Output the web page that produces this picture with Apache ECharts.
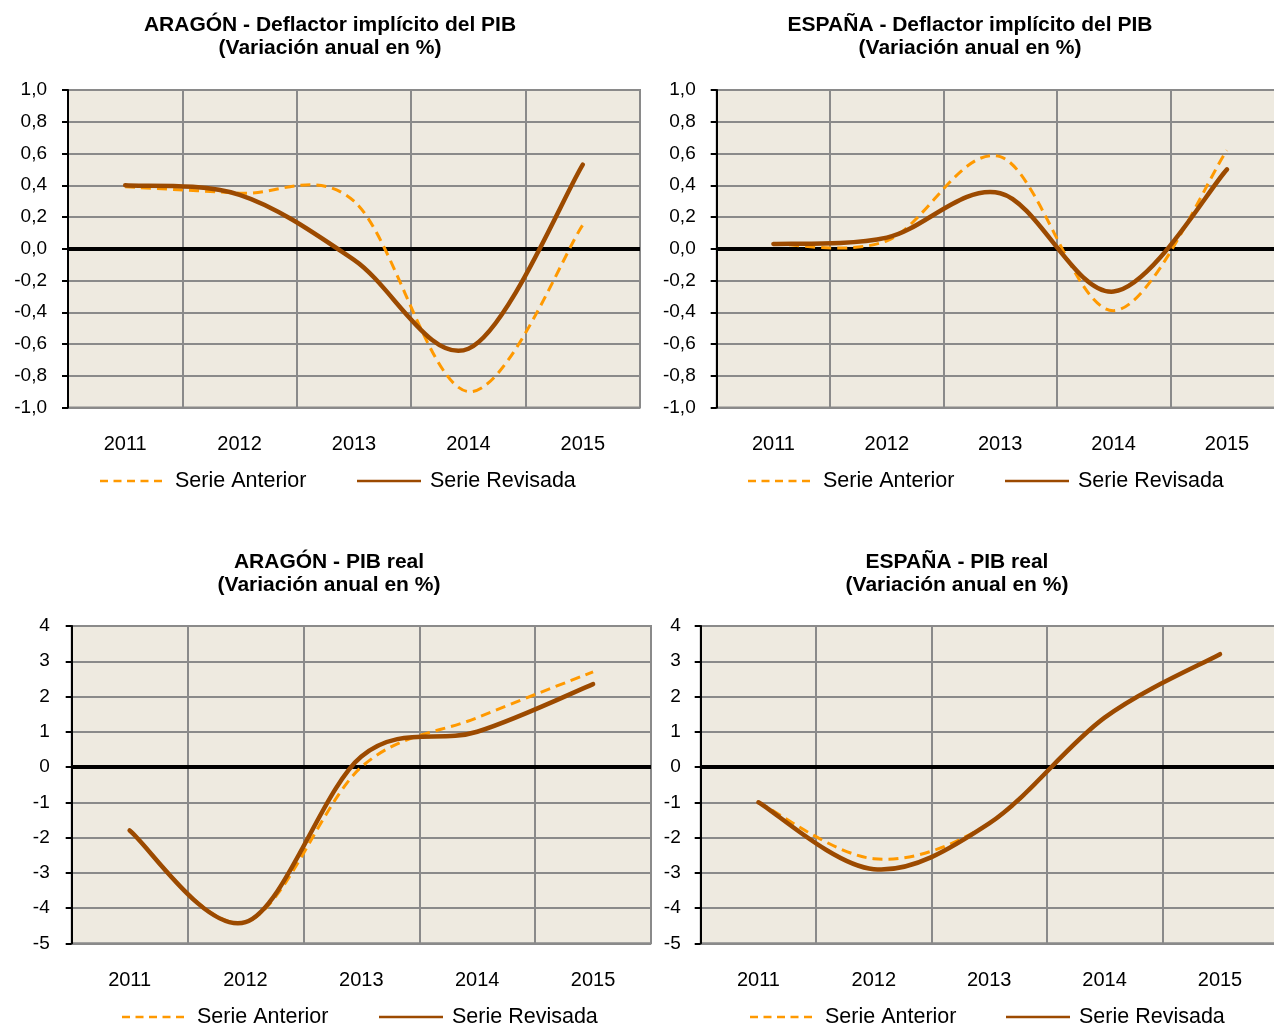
<!DOCTYPE html>
<html>
<head>
<meta charset="utf-8">
<script src="https://cdn.jsdelivr.net/npm/echarts@6/dist/echarts.min.js"></script>
<style>
html,body{margin:0;padding:0;background:#fff;overflow:hidden;width:1274px;height:1027px;}
#c{width:1300px;height:1027px;}
</style>
</head>
<body>
<div id="c"></div>
<script>
// ---- data ----
var categories = ['2011', '2012', '2013', '2014', '2015'];
var aragonDeflAnterior = [0.39, 0.35, 0.30, -0.90, 0.15];
var aragonDeflRevisada = [0.40, 0.34, -0.07, -0.63, 0.53];
var espanaDeflAnterior = [0.03, 0.05, 0.58, -0.39, 0.62];
var espanaDeflRevisada = [0.03, 0.07, 0.35, -0.27, 0.50];
var aragonPibAnterior = [-1.8, -4.4, 0.0, 1.4, 2.7];
var aragonPibRevisada = [-1.8, -4.4, 0.3, 1.0, 2.35];
var espanaPibAnterior = [-1.0, -2.6, -1.6, 1.4, 3.2];
var espanaPibRevisada = [-1.0, -2.9, -1.6, 1.4, 3.2];
var seriesNames = ['Serie Anterior', 'Serie Revisada'];
var titles = [
  'ARAGÓN - Deflactor implícito del PIB\n(Variación anual en %)',
  'ESPAÑA - Deflactor implícito del PIB\n(Variación anual en %)',
  'ARAGÓN - PIB real\n(Variación anual en %)',
  'ESPAÑA - PIB real\n(Variación anual en %)'
];

var FONT = '"Liberation Sans", Arial, sans-serif';
var ORANGE = '#FF9900';
var BROWN = '#9C4A00';
var GRIDC = '#8a8a8a';
var BG = '#EEEAE0';

var grids = [
  {left: 68, top: 90, width: 572, height: 317.5},
  {left: 716.7, top: 90, width: 567, height: 317.5},
  {left: 71.7, top: 626, width: 579.3, height: 317.3},
  {left: 700.7, top: 626, width: 577, height: 317.3}
];
var yRanges = [
  {min: -1, max: 1, interval: 0.2, dec: 1},
  {min: -1, max: 1, interval: 0.2, dec: 1},
  {min: -5, max: 4, interval: 1, dec: 0},
  {min: -5, max: 4, interval: 1, dec: 0}
];
var data = [
  [aragonDeflAnterior, aragonDeflRevisada],
  [espanaDeflAnterior, espanaDeflRevisada],
  [aragonPibAnterior, aragonPibRevisada],
  [espanaPibAnterior, espanaPibRevisada]
];
var titlePos = [
  {x: 330, y: 14}, {x: 970, y: 14}, {x: 329, y: 551}, {x: 957, y: 551}
];
var legendPos = [
  {a: 100, r: 357, y: 470}, {a: 748, r: 1005, y: 470},
  {a: 122, r: 379, y: 1006}, {a: 750, r: 1006, y: 1006}
];
var yLabelMargin = [21, 21, 22, 20];

// smooth curve through the points (Excel-like Catmull-Rom Bezier)
function smoothPath(pts) {
  var d = 'M' + pts[0][0] + ',' + pts[0][1];
  for (var k = 0; k < pts.length - 1; k++) {
    var p0 = pts[Math.max(k - 1, 0)], p1 = pts[k], p2 = pts[k + 1], p3 = pts[Math.min(k + 2, pts.length - 1)];
    var c1x = p1[0] + (p2[0] - p0[0]) / 6, c1y = p1[1] + (p2[1] - p0[1]) / 6;
    var c2x = p2[0] - (p3[0] - p1[0]) / 6, c2y = p2[1] - (p3[1] - p1[1]) / 6;
    d += 'C' + c1x + ',' + c1y + ' ' + c2x + ',' + c2y + ' ' + p2[0] + ',' + p2[1];
  }
  return d;
}
function curveRenderer(values, color, width, dash, cap) {
  return function (params, api) {
    if (params.dataIndex !== 0) return null;
    var pts = values.map(function (v, k) { return api.coord([k, v]); });
    return {
      type: 'path', silent: true,
      shape: {pathData: smoothPath(pts)},
      style: {fill: 'none', stroke: color, lineWidth: width, lineDash: dash, lineCap: cap, lineJoin: 'round'}
    };
  };
}
function toData(values) { return values.map(function (v, k) { return [k, v]; }); }

var dashIcon = 'path://M0,0h8v2.5h-8zM13.5,0h8v2.5h-8zM27,0h8v2.5h-8zM40.5,0h8v2.5h-8zM54,0h8v2.5h-8z';
var solidIcon = 'path://M0,0h64v2.5h-64z';

var option = {
  animation: false,
  backgroundColor: '#ffffff',
  title: [], grid: [], xAxis: [], yAxis: [], series: [], legend: []
};

for (var i = 0; i < 4; i++) {
  option.title.push({
    text: titles[i], left: titlePos[i].x, top: titlePos[i].y, textAlign: 'center', padding: 0,
    textStyle: {fontFamily: FONT, fontWeight: 'bold', fontSize: 21, lineHeight: 23, color: '#000'}
  });
  option.grid.push({
    left: grids[i].left, top: grids[i].top, width: grids[i].width, height: grids[i].height,
    show: true, backgroundColor: BG, borderColor: GRIDC, borderWidth: 2
  });
  option.xAxis.push({
    type: 'category', gridIndex: i, data: categories, boundaryGap: true,
    axisLine: {show: false}, axisTick: {show: false},
    splitLine: {show: true, lineStyle: {color: GRIDC, width: 2}},
    axisLabel: {fontFamily: FONT, fontSize: 20, color: '#000', margin: 27}
  });
  (function (dec) {
    option.yAxis.push({
      type: 'value', gridIndex: i, min: yRanges[i].min, max: yRanges[i].max, interval: yRanges[i].interval,
      axisLine: {show: true, lineStyle: {color: '#000', width: 2}},
      axisTick: {show: true, length: 6, lineStyle: {color: '#000', width: 2}},
      splitLine: {show: true, lineStyle: {color: GRIDC, width: 2}},
      axisLabel: {
        fontFamily: FONT, fontSize: 19, color: '#000', margin: yLabelMargin[i],
        formatter: function (v) {
          var s = Math.abs(v) < 1e-9 ? (0).toFixed(dec) : v.toFixed(dec);
          return s.replace('.', ',');
        }
      }
    });
  })(yRanges[i].dec);
  option.series.push({
    name: seriesNames[0], type: 'custom', xAxisIndex: i, yAxisIndex: i, z: 3,
    data: toData(data[i][0]), encode: {x: 0, y: 1},
    itemStyle: {color: ORANGE},
    renderItem: curveRenderer(data[i][0], ORANGE, 3, [10, 6], 'butt'),
    markLine: {
      silent: true, symbol: 'none', label: {show: false}, z: 2,
      lineStyle: {color: '#000', width: 4, type: 'solid'},
      data: [{yAxis: 0}]
    }
  });
  option.series.push({
    name: seriesNames[1], type: 'custom', xAxisIndex: i, yAxisIndex: i, z: 4,
    data: toData(data[i][1]), encode: {x: 0, y: 1},
    itemStyle: {color: BROWN},
    renderItem: curveRenderer(data[i][1], BROWN, 4.5, null, 'round')
  });
  option.legend.push({
    data: [{name: seriesNames[0], icon: dashIcon}],
    left: legendPos[i].a, top: legendPos[i].y, padding: 0, symbolKeepAspect: false,
    itemWidth: 62, itemHeight: 2.5, selectedMode: false,
    itemStyle: {color: ORANGE, borderWidth: 0, opacity: 1},
    textStyle: {fontFamily: FONT, fontSize: 21.5, color: '#000', padding: [0, 0, 0, 8]}
  });
  option.legend.push({
    data: [{name: seriesNames[1], icon: solidIcon}],
    left: legendPos[i].r, top: legendPos[i].y, padding: 0, symbolKeepAspect: false,
    itemWidth: 64, itemHeight: 2.5, selectedMode: false,
    itemStyle: {color: BROWN, borderWidth: 0, opacity: 1},
    textStyle: {fontFamily: FONT, fontSize: 21.5, color: '#000', padding: [0, 0, 0, 4]}
  });
}

var chart = echarts.init(document.getElementById('c'), null, {renderer: 'canvas'});
chart.setOption(option);
</script>
</body>
</html>
